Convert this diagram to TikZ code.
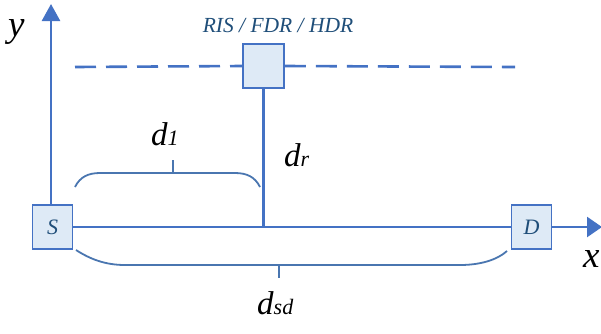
\documentclass[tikz,border=0pt]{standalone}
\usepackage{fontspec}
\setmainfont{LiberationSerif}[Extension=.ttf, UprightFont=*-Regular, ItalicFont=*-Italic, BoldFont=*-Bold, BoldItalicFont=*-BoldItalic]
\usetikzlibrary{arrows.meta}
\definecolor{lineblue}{HTML}{4472C4}
\definecolor{bracecol}{HTML}{4A76B0}
\definecolor{boxfill}{HTML}{DEEAF6}
\definecolor{txtblue}{HTML}{1F4E79}
\tikzset{
  blk/.style={draw=lineblue, fill=boxfill, line width=1.8pt, minimum width=40pt, minimum height=44pt, inner sep=0pt, text=txtblue, font=\fontsize{22}{22}\selectfont\itshape},
  axis/.style={draw=lineblue, line width=2.6pt},
  brace/.style={draw=bracecol, line width=1.8pt},
  lbl/.style={inner sep=0pt, anchor=base west, text=black},
}
\newcommand{\bigd}{\fontsize{33}{33}\selectfont\itshape d}
\newcommand{\subfnt}{\fontsize{22}{22}\selectfont\itshape}
\begin{document}
\begin{tikzpicture}[x=1pt,y=-1pt]
\useasboundingbox (0,0) rectangle (601,333);
\node[blk] (S) at (52.5,227) {S};
\node[blk] (D) at (531.5,227) {D};
\node[blk, minimum width=41pt] (R) at (263.5,66) {};
\node[inner sep=0pt, text=txtblue, font=\fontsize{21.5}{21.5}\selectfont\itshape] (rl) at (278,25) {RIS / FDR / HDR};
\coordinate (ytip) at (51,4);
\coordinate (xtip) at (602,227);
\coordinate (J) at (263.5,227);
\coordinate (dl) at (75,67);
\coordinate (dr) at (515,67);
% axes
\draw[axis, -{Triangle[length=17pt,width=18pt]}] (S.north -| ytip) -- (ytip);
\draw[axis, -{Triangle[length=15pt,width=20pt]}] (D.east) -- (xtip);
\draw[axis] (S.east) -- (D.west);
\draw[axis] (R.south) -- (J);
\draw[axis, dash pattern=on 21pt off 10pt] (dl) -- (R.west);
\draw[axis, dash pattern=on 21pt off 10pt] (R.east) -- (dr);
% braces
\draw[brace] (75,187) .. controls (80,177) and (88,173) .. (100,173) -- (235,173) .. controls (247,173) and (255,177) .. (260,187);
\draw[brace] (173,173) -- (173,160);
\draw[brace] (76,250) .. controls (90,259) and (105,265) .. (125,265) -- (460,265) .. controls (480,265) and (497,260) .. (507,251);
\draw[brace] (279,265) -- (279,278);
% labels
\node[lbl] (d1) at (151,145) {\bigd\subfnt 1};
\node[lbl] (drl) at (284,166) {\bigd\subfnt r};
\node[lbl] (dsd) at (257,314) {\bigd\subfnt sd};
\node[lbl, font=\fontsize{37}{37}\selectfont\itshape] (yl) at (8,36) {y};
\node[lbl, font=\fontsize{37}{37}\selectfont\itshape] (xl) at (583,267) {x};
\end{tikzpicture}
\end{document}
